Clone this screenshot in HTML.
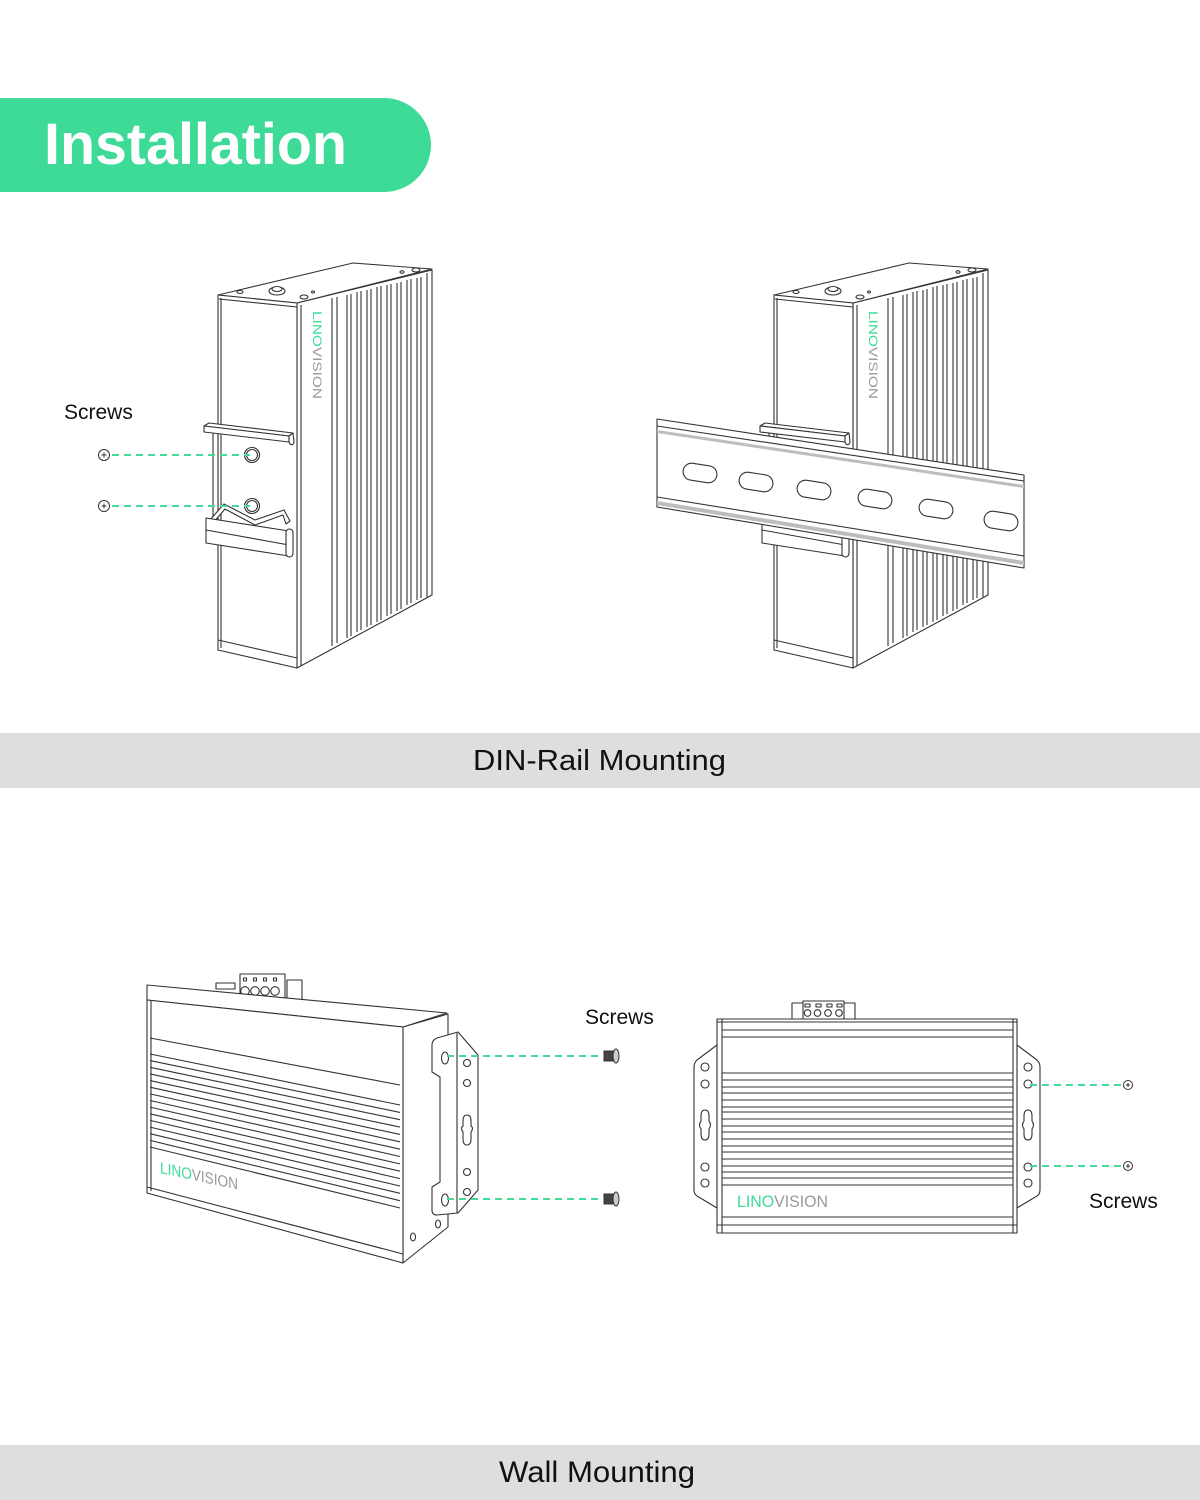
<!DOCTYPE html>
<html><head><meta charset="utf-8"><style>
html,body{margin:0;padding:0;background:#fff;}
svg{display:block;}
text{font-family:"Liberation Sans",sans-serif;}
</style></head><body>
<svg width="1200" height="1500" viewBox="0 0 1200 1500" xmlns="http://www.w3.org/2000/svg">
<rect width="1200" height="1500" fill="#fff"/>
<!-- Header -->
<path d="M0,98 H384 A47,47 0 0 1 384,192 H0 Z" fill="#3ddb97"/>
<text x="44" y="164" font-size="58" font-weight="bold" fill="#fff" textLength="303" lengthAdjust="spacingAndGlyphs">Installation</text>

<!-- Bands -->
<rect x="0" y="733" width="1200" height="55" fill="#dedede"/>
<text x="473" y="770" font-size="29" fill="#111" textLength="253" lengthAdjust="spacingAndGlyphs">DIN-Rail Mounting</text>
<rect x="0" y="1445" width="1200" height="55" fill="#dedede"/>
<text x="499" y="1482" font-size="30" fill="#111" textLength="196" lengthAdjust="spacingAndGlyphs">Wall Mounting</text>

<defs>
<g id="devA" fill="#fff" stroke="#333" stroke-width="1.1" stroke-linejoin="round">
  <polygon points="297,303 432,270 432,595 297,668"/>
  <polygon points="218,295 353,263 432,269 297,303"/>
  <polygon points="218,295 297,303 297,668 218,650"/>
  <line x1="221" y1="298" x2="221" y2="648"/>
  <line x1="219" y1="299" x2="297" y2="307"/>
  <line x1="218" y1="640" x2="297" y2="658"/>
  <line x1="301" y1="305" x2="301" y2="666"/>
  <line x1="427" y1="273" x2="427" y2="597"/>
  <path fill="none" d="M332,298 V646 M337,297 V643 M347,295 V638 M351,294 V636 M357,292 V632 M361,291 V630 M367,290 V627 M371,289 V625 M377,287 V622 M381,286 V620 M387,285 V616 M391,284 V614 M397,283 V611 M401,282 V609 M407,280 V605 M411,279 V603 M417,278 V600 M421,277 V598"/>
  <ellipse cx="277" cy="291" rx="8" ry="4"/>
  <ellipse cx="277" cy="289" rx="5" ry="2.5"/>
  <ellipse cx="304" cy="297" rx="4" ry="2"/>
  <ellipse cx="313" cy="292" rx="1.5" ry="1"/>
  <ellipse cx="240" cy="292" rx="3" ry="1.5"/>
  <ellipse cx="402" cy="272" rx="2" ry="1.3"/>
  <ellipse cx="416" cy="270" rx="4" ry="2"/>
  <!-- between clips plate -->
  <polygon points="213,432 218,432 218,522 213,522"/>
  <!-- top clip -->
  <polygon points="204,426 209,423 293,433 289,436"/>
  <polygon points="204,426 289,436 289,442 204,432"/>
  <path d="M289,436 L293,433 L294,442 Q293,446 290,444 L289,442 Z"/>
  <!-- screw holes -->
  <circle cx="252" cy="455" r="7.5"/>
  <circle cx="252" cy="455" r="5.5"/>
  <circle cx="252" cy="506" r="7.5"/>
  <circle cx="252" cy="506" r="5.5"/>
  <!-- bottom clip -->
  <path d="M209,521 L224,504 L255,520 L284,510 L290,521 L286,524 L283,515 L255,525 L225,509 L213,523 Z"/>
  <polygon points="206,518 289,531 289,556 206,543"/>
  <line x1="206" y1="530" x2="289" y2="545"/>
  <rect x="286" y="529" width="7" height="28" rx="3.5"/>
</g>
</defs>

<!-- Top-left device -->
<use href="#devA"/>
<text transform="translate(313,311) rotate(90)" font-size="12" textLength="88" lengthAdjust="spacingAndGlyphs"><tspan fill="#3ddb97">LINO</tspan><tspan fill="#999">VISION</tspan></text>

<!-- screws top-left -->
<g stroke="#45d99a" stroke-width="2" stroke-dasharray="7,5" fill="none">
  <line x1="112" y1="455" x2="250" y2="455"/>
  <line x1="112" y1="506" x2="250" y2="506"/>
</g>
<g fill="#fff" stroke="#333" stroke-width="1">
  <circle cx="104" cy="455" r="5.5"/><path d="M101.5,455 h5 M104,452.5 v5" />
  <circle cx="104" cy="506" r="5.5"/><path d="M101.5,506 h5 M104,503.5 v5" />
</g>
<text x="64" y="419" font-size="21" fill="#111">Screws</text>

<!-- Top-right device -->
<use href="#devA" transform="translate(556,0)"/>
<text transform="translate(869,311) rotate(90)" font-size="12" textLength="88" lengthAdjust="spacingAndGlyphs"><tspan fill="#3ddb97">LINO</tspan><tspan fill="#999">VISION</tspan></text>

<!-- DIN rail -->
<g stroke="#333" stroke-width="1.1" stroke-linejoin="round">
  <polygon points="657,419 1024,475 1024,568 657,507" fill="#fff"/>
  <line x1="657" y1="426" x2="1024" y2="481"/>
  <polygon points="657,430 1024,485 1024,488 657,433" fill="#bdbdbd" stroke="none"/>
  <line x1="657" y1="497" x2="1024" y2="556"/>
  <polygon points="657,501 1024,561 1024,565 657,505" fill="#bdbdbd" stroke="none"/>
  <g fill="#fff">
    <rect x="-17" y="-8.5" width="34" height="17" rx="8.5" transform="translate(700,473) rotate(9)"/>
    <rect x="-17" y="-8.5" width="34" height="17" rx="8.5" transform="translate(756,482) rotate(9)"/>
    <rect x="-17" y="-8.5" width="34" height="17" rx="8.5" transform="translate(814,490) rotate(9)"/>
    <rect x="-17" y="-8.5" width="34" height="17" rx="8.5" transform="translate(875,499) rotate(9)"/>
    <rect x="-17" y="-8.5" width="34" height="17" rx="8.5" transform="translate(936,509) rotate(9)"/>
    <rect x="-17" y="-8.5" width="34" height="17" rx="8.5" transform="translate(1001,521) rotate(9)"/>
  </g>
</g>

<!-- Bottom-left device -->
<g fill="#fff" stroke="#333" stroke-width="1.1" stroke-linejoin="round">
  <!-- terminal -->
  <rect x="216" y="983" width="19" height="6"/>
  <rect x="240" y="974" width="45" height="24"/>
  <rect x="243.5" y="978" width="3" height="3"/><rect x="253.5" y="978" width="3" height="3"/><rect x="263.5" y="978" width="3" height="3"/><rect x="273.5" y="978" width="3" height="3"/>
  <circle cx="245" cy="991" r="4.3"/><circle cx="255" cy="991" r="4.3"/><circle cx="265" cy="991" r="4.3"/><circle cx="275" cy="991" r="4.3"/>
  <rect x="287" y="980" width="15" height="20"/>
  <polygon points="147,985 447,1013 403,1027 147,1000"/>
  <polygon points="403,1027 448,1014 448,1227 403,1263"/>
  <polygon points="147,1000 403,1027 403,1263 147,1193"/>
  <line x1="151" y1="1001" x2="151" y2="1191"/>
  <path fill="none" d="M150,1038 L400,1085 M150,1054 L400,1105 M150,1060.6 L400,1112.4 M150,1067.3 L400,1119.7 M150,1073.9 L400,1127.1 M150,1080.6 L400,1134.4 M150,1087.2 L400,1141.8 M150,1093.9 L400,1149.2 M150,1100.5 L400,1156.5 M150,1107.1 L400,1163.9 M150,1113.8 L400,1171.2 M150,1120.4 L400,1178.6 M150,1127.1 L400,1186 M150,1133.7 L400,1193.3 M150,1140.4 L400,1200.7 M150,1147 L400,1208 M147,1187 L403,1254"/>
  <ellipse cx="413" cy="1237" rx="2.5" ry="4"/>
  <ellipse cx="438" cy="1224" rx="2.5" ry="4"/>
  <!-- bracket -->
  <path d="M432,1045 Q432,1040 437,1038 L458,1032 L478,1055 L478,1190 L458,1213 L437,1215 Q432,1215 432,1210 L432,1187 L440,1182 L440,1077 L432,1072 Z"/>
  <line x1="457" y1="1033" x2="457" y2="1213"/>
  <ellipse cx="445" cy="1058" rx="3.5" ry="6"/>
  <ellipse cx="445" cy="1200" rx="3.5" ry="6"/>
  <circle cx="467" cy="1063" r="3.5"/><circle cx="467" cy="1083" r="3.5"/>
  <circle cx="467" cy="1172" r="3.5"/><circle cx="467" cy="1192" r="3.5"/>
  <path d="M467,1115 Q471,1115 471,1121 L471,1126 Q474,1128 471,1132 L471,1139 Q471,1145 467,1145 Q463,1145 463,1139 L463,1132 Q460,1128 463,1126 L463,1121 Q463,1115 467,1115 Z"/>
</g>
<text transform="translate(160,1173) skewY(12)" font-size="16" textLength="78" lengthAdjust="spacingAndGlyphs"><tspan fill="#3ddb97">LINO</tspan><tspan fill="#999">VISION</tspan></text>

<g stroke="#45d99a" stroke-width="2" stroke-dasharray="7,5" fill="none">
  <line x1="447" y1="1056" x2="600" y2="1056"/>
  <line x1="447" y1="1199" x2="600" y2="1199"/>
</g>
<g stroke="#333" stroke-width="1">
  <rect x="604" y="1051" width="11" height="10" fill="#444"/>
  <ellipse cx="616" cy="1056" rx="3" ry="7" fill="#ccc"/>
  <rect x="604" y="1194" width="11" height="10" fill="#444"/>
  <ellipse cx="616" cy="1199" rx="3" ry="7" fill="#ccc"/>
</g>
<text x="585" y="1024" font-size="21" fill="#111">Screws</text>

<!-- Bottom-right device -->
<g fill="#fff" stroke="#333" stroke-width="1.1" stroke-linejoin="round">
  <rect x="792" y="1003" width="63" height="16"/>
  <rect x="803" y="1001" width="41" height="18"/>
  <rect x="805" y="1004" width="5" height="3"/><rect x="816" y="1004" width="5" height="3"/><rect x="827" y="1004" width="5" height="3"/><rect x="837" y="1004" width="5" height="3"/>
  <circle cx="807.5" cy="1013" r="3.3"/><circle cx="817.5" cy="1013" r="3.3"/><circle cx="828" cy="1013" r="3.3"/><circle cx="839" cy="1013" r="3.3"/>
  <path d="M717,1045 L697,1060 Q694,1063 694,1067 L694,1190 Q694,1194 697,1196 L717,1208 Z"/>
  <path d="M1017,1045 L1037,1060 Q1040,1063 1040,1067 L1040,1190 Q1040,1194 1037,1196 L1017,1208 Z"/>
  <rect x="717" y="1019" width="300" height="214"/>
  <path fill="none" d="M722,1019 V1233 M1013,1019 V1233 M717,1022 H1017 M722,1030 H1013 M722,1037 H1013 M722,1073 H1013 M722,1080 H1013 M722,1087 H1013 M722,1093 H1013 M722,1100 H1013 M722,1107 H1013 M722,1112 H1013 M722,1119 H1013 M722,1126 H1013 M722,1132 H1013 M722,1139 H1013 M722,1146 H1013 M722,1152 H1013 M722,1159 H1013 M722,1166 H1013 M722,1172 H1013 M722,1178 H1013 M722,1185 H1013 M722,1217 H1013 M717,1225 H1017"/>
  <circle cx="705" cy="1067" r="4"/><circle cx="705" cy="1084" r="4"/>
  <circle cx="705" cy="1167" r="4"/><circle cx="705" cy="1183" r="4"/>
  <circle cx="1028" cy="1067" r="4"/><circle cx="1028" cy="1084" r="4"/>
  <circle cx="1028" cy="1167" r="4"/><circle cx="1028" cy="1183" r="4"/>
  <path d="M705,1110 Q709,1110 709,1116 L709,1121 Q712,1125 709,1129 L709,1134 Q709,1140 705,1140 Q701,1140 701,1134 L701,1129 Q698,1125 701,1121 L701,1116 Q701,1110 705,1110 Z"/>
  <path d="M1028,1110 Q1032,1110 1032,1116 L1032,1121 Q1035,1125 1032,1129 L1032,1134 Q1032,1140 1028,1140 Q1024,1140 1024,1134 L1024,1129 Q1021,1125 1024,1121 L1024,1116 Q1024,1110 1028,1110 Z"/>
</g>
<text x="737" y="1207" font-size="17" textLength="91" lengthAdjust="spacingAndGlyphs"><tspan fill="#3ddb97">LINO</tspan><tspan fill="#999">VISION</tspan></text>

<g stroke="#45d99a" stroke-width="2" stroke-dasharray="7,5" fill="none">
  <line x1="1030" y1="1085" x2="1122" y2="1085"/>
  <line x1="1030" y1="1166" x2="1122" y2="1166"/>
</g>
<g fill="#fff" stroke="#333" stroke-width="1">
  <circle cx="1128" cy="1085" r="4.5"/><path d="M1126,1085 h4 M1128,1083 v4"/>
  <circle cx="1128" cy="1166" r="4.5"/><path d="M1126,1166 h4 M1128,1164 v4"/>
</g>
<text x="1089" y="1208" font-size="21" fill="#111">Screws</text>
</svg>
</body></html>
